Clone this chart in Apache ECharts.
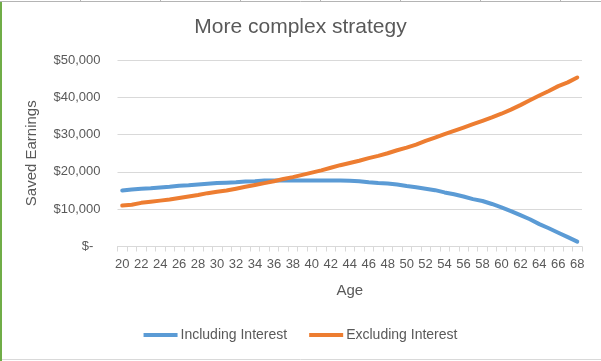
<!DOCTYPE html>
<html>
<head>
<meta charset="utf-8">
<script src="https://cdn.jsdelivr.net/npm/echarts@6/dist/echarts.min.js"></script>
<style>
html,body{margin:0;padding:0;background:#fff;}
#chart{width:601px;height:361px;}
</style>
</head>
<body>
<div id="chart"></div>
<script>
const ages = [20,21,22,23,24,25,26,27,28,29,30,31,32,33,34,35,36,37,38,39,40,41,42,43,44,45,46,47,48,49,50,51,52,53,54,55,56,57,58,59,60,61,62,63,64,65,66,67,68];
const includingInterest = [15000,15300,15500,15600,15800,16000,16300,16400,16600,16800,17000,17100,17200,17400,17500,17700,17700,17700,17700,17700,17700,17700,17700,17700,17600,17500,17200,17000,16900,16600,16200,15900,15500,15100,14500,14000,13400,12700,12200,11400,10500,9500,8400,7300,6000,4900,3700,2500,1300];
const excludingInterest = [11000,11200,11700,12000,12300,12600,13000,13400,13800,14300,14700,15000,15500,16000,16500,17000,17500,18100,18600,19200,19800,20400,21100,21800,22400,23000,23700,24300,25000,25800,26500,27300,28300,29200,30100,31000,31900,32800,33700,34600,35600,36700,37900,39200,40500,41700,43000,44000,45300];
const yTicks = [0,10000,20000,30000,40000,50000];
const seriesNames = ['Including Interest','Excluding Interest'];
const titleText = 'More complex strategy';

const chart = echarts.init(document.getElementById('chart'), null, {renderer:'canvas'});
const font = 'Liberation Sans';
const colTicks = [80,160,240,320,400,480,560];
const graphics = [
  {type:'line', shape:{x1:0,y1:1.5,x2:601,y2:1.5}, style:{stroke:'#b4b4b4',lineWidth:1}, silent:true},
  {type:'line', shape:{x1:0,y1:359.5,x2:601,y2:359.5}, style:{stroke:'#d9d9d9',lineWidth:1}, silent:true},
  {type:'rect', shape:{x:0,y:2,width:2,height:359}, style:{fill:'#70ad47'}, silent:true}
];
colTicks.forEach(x => graphics.push({type:'line', shape:{x1:x+0.5,y1:0,x2:x+0.5,y2:2}, style:{stroke:'#b4b4b4',lineWidth:1}, silent:true}));

chart.setOption({
  animation:false,
  backgroundColor:'#fff',
  title:{
    text:titleText, left:'center', top:12,
    textStyle:{fontFamily:font, fontSize:21, fontWeight:'normal', color:'#595959'}
  },
  grid:{left:117.5, right:19, top:60, bottom:114.5, containLabel:false},
  legend:{
    data:seriesNames, bottom:14, left:'center',
    icon:'rect', itemWidth:34, itemHeight:4, itemGap:22,
    textStyle:{fontFamily:font, fontSize:14, color:'#595959', padding:[0,0,0,-2]}
  },
  xAxis:{
    type:'category', data:ages, boundaryGap:true,
    name:'Age', nameLocation:'middle', nameGap:37,
    nameTextStyle:{fontFamily:font, fontSize:15, color:'#595959'},
    axisLine:{lineStyle:{color:'#d9d9d9', width:1}},
    axisTick:{show:true, interval:0, length:5, lineStyle:{color:'#d9d9d9'}},
    axisLabel:{interval:1, fontFamily:font, fontSize:13, color:'#595959', margin:11}
  },
  yAxis:{
    type:'value', min:0, max:50000, interval:10000,
    name:'Saved Earnings', nameLocation:'middle', nameGap:78, nameRotate:90,
    nameTextStyle:{fontFamily:font, fontSize:15, color:'#595959'},
    axisLine:{show:false}, axisTick:{show:false},
    splitLine:{lineStyle:{color:'#d9d9d9', width:1}},
    axisLabel:{
      fontFamily:font, fontSize:13, color:'#595959', margin:17,
      formatter: v => v === 0 ? '$-  ' : '$' + v.toLocaleString('en-US')
    }
  },
  series:[
    {name:seriesNames[0], type:'line', data:includingInterest, symbol:'none', smooth:false,
     lineStyle:{color:'#5b9bd5', width:4, cap:'round', join:'round'}, itemStyle:{color:'#5b9bd5'}},
    {name:seriesNames[1], type:'line', data:excludingInterest, symbol:'none', smooth:false,
     lineStyle:{color:'#ed7d31', width:4, cap:'round', join:'round'}, itemStyle:{color:'#ed7d31'}}
  ],
  graphic:graphics
});
</script>
</body>
</html>
